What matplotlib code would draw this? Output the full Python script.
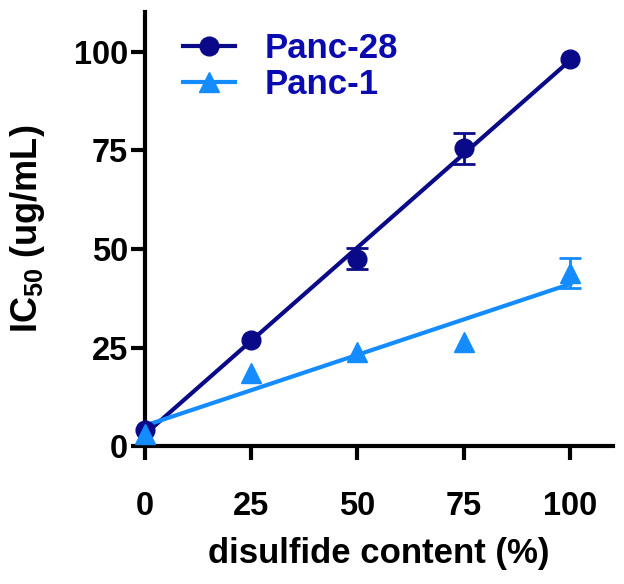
import numpy as np
import matplotlib
matplotlib.use("Agg")
import matplotlib.pyplot as plt

plt.rcParams['font.family'] = ['Liberation Sans', 'DejaVu Sans']
plt.rcParams['font.weight'] = 'bold'
plt.rcParams['mathtext.fontset'] = 'custom'
plt.rcParams['mathtext.rm'] = 'Liberation Sans:bold'
plt.rcParams['mathtext.it'] = 'Liberation Sans:bold'
plt.rcParams['mathtext.bf'] = 'Liberation Sans:bold'

# 数据
disulfide = [0, 25, 50, 75, 100]
panc28 = [4.0, 26.8, 47.5, 75.5, 98.2]
panc28_err = [0.0, 0.0, 2.7, 4.0, 0.0]
panc1 = [3.0, 18.5, 24.0, 26.3, 44.0]
panc1_err = [0.0, 0.0, 0.0, 0.0, 3.8]
ticks = [0, 25, 50, 75, 100]

navy = '#0a0a88'
sky = '#148cff'

fig = plt.figure(figsize=(6.24, 5.84), dpi=100)
ax = fig.add_axes([0.232, 0.236, 0.75, 0.743])

x = np.array(disulfide)
xf = np.array([0, 100])
for y, err, c, m, ms, name in [(panc28, panc28_err, navy, 'o', 13.5, 'Panc-28'),
                                (panc1, panc1_err, sky, '^', 14, 'Panc-1')]:
    y = np.array(y)
    err = np.array(err)
    k, b = np.polyfit(x, y, 1)  # 线性拟合
    ax.plot(xf, k * xf + b, color=c, lw=3, zorder=2)
    has = err > 0  # 只画有误差的点
    ax.errorbar(x[has], y[has], yerr=err[has], fmt='none', ecolor=c, elinewidth=2,
                capsize=8, capthick=2, zorder=3)
    ax.plot(x, y, m, color=c, ms=ms, zorder=4, clip_on=False)
    ax.plot([], [], marker=m, color=c, lw=3, ms=ms, label=name)

ax.set_xlim(0, 110)
ax.set_ylim(0, 110)
ax.set_xticks(ticks)
ax.set_yticks(ticks)
for s in ['top', 'right']:
    ax.spines[s].set_visible(False)
for s in ['left', 'bottom']:
    ax.spines[s].set_linewidth(3)
ax.tick_params(width=3, length=10, labelsize=23.5)
ax.tick_params(axis='x', pad=22)
ax.tick_params(axis='y', pad=2)
ax.set_xlabel('disulfide content (%)', fontsize=25, fontweight='bold', labelpad=11)
ax.set_ylabel(r'IC$_{50}$ (ug/mL)', fontsize=26, fontweight='bold', labelpad=19)

leg = ax.legend(loc='upper left', bbox_to_anchor=(0.081, 0.955), frameon=False, fontsize=25,
                handlelength=1.5, labelspacing=0.1, handletextpad=0.85,
                borderpad=0, borderaxespad=0)
for t in leg.get_texts():
    t.set_color('#0a0ab0')
    t.set_fontweight('bold')

fig.savefig('out.png', dpi=100)
